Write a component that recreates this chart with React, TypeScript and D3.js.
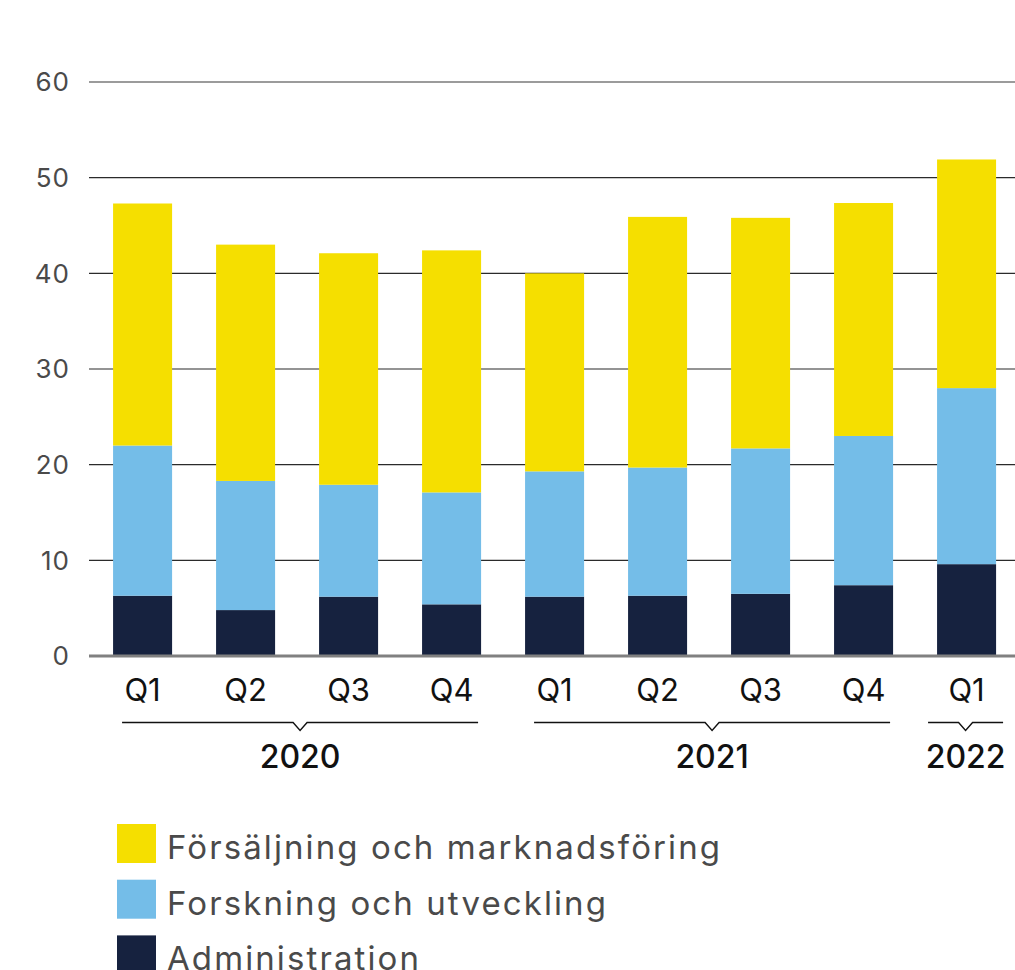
import React, { useLayoutEffect } from "react";
import * as d3 from "d3";

const quarters = ["Q1", "Q2", "Q3", "Q4", "Q1", "Q2", "Q3", "Q4", "Q1"];
const years = ["2020", "2020", "2020", "2020", "2021", "2021", "2021", "2021", "2022"];
const administration = [6.3, 4.8, 6.2, 5.4, 6.2, 6.3, 6.5, 7.4, 9.6];
const forskning = [15.7, 13.5, 11.7, 11.7, 13.1, 13.4, 15.2, 15.6, 18.4];
const forsaljning = [25.3, 24.7, 24.2, 25.3, 20.7, 26.2, 24.1, 24.35, 23.9];
const yTicks = [0, 10, 20, 30, 40, 50, 60];
const seriesKeys = ["admin", "rnd", "sales"];
const seriesLabels = ["Administration", "Forskning och utveckling", "Försäljning och marknadsföring"];
const seriesColors = ["#16223f", "#74bde8", "#f5df00"];
const legendOrder = [2, 1, 0];

const W = 1015;
const H = 970;
const FONT = "Inter, 'Noto Sans', sans-serif";

export default function App() {
  useLayoutEffect(() => {
    document.body.style.margin = "0";
  }, []);

  const rows = quarters.map((q, i) => ({
    id: i,
    admin: administration[i],
    rnd: forskning[i],
    sales: forsaljning[i],
  }));
  const stacked = d3.stack<any>().keys(seriesKeys)(rows);

  const x = d3
    .scaleBand<number>()
    .domain(rows.map((r) => r.id))
    .range([89, 1015])
    .paddingInner(0.427)
    .paddingOuter(0.2087)
    .align(0.56);
  const y = d3.scaleLinear().domain([0, 60]).range([656, 82]);

  const bw = x.bandwidth();
  const groups = Array.from(new Set(years)).map((yr) => {
    const idx = years.map((v, i) => (v === yr ? i : -1)).filter((i) => i >= 0);
    const first = idx[0];
    const last = idx[idx.length - 1];
    let x0: number, x1: number;
    if (idx.length === 1) {
      x0 = (x(first) as number) - 9;
      x1 = (x(last) as number) + bw + 7;
    } else {
      x0 = (x(first) as number) + 9;
      x1 = (x(last) as number) + bw - 3;
    }
    return { yr, x0, x1, cx: (x0 + x1) / 2 };
  });

  const bracketY = 722.5;

  return (
    <svg width={W} height={H} style={{ display: "block" }} fontFamily={FONT}>
      {yTicks.map((t) => (
        <g key={t}>
          {t !== 0 && (
            <line
              x1={89}
              x2={W}
              y1={y(t)}
              y2={y(t)}
              stroke={t === 60 ? "#7a7a7a" : "#2b2b2b"}
              strokeWidth={t === 60 ? 1.5 : 1.2}
            />
          )}
          <text x={70} y={y(t)} dy="0.36em" textAnchor="end" fontSize={26} letterSpacing={1} fill="#4a4a4a">
            {t}
          </text>
        </g>
      ))}
      {stacked.map((s, si) => (
        <g key={s.key} fill={seriesColors[si]}>
          {s.map((d, i) => (
            <rect
              key={i}
              x={x(i) as number}
              width={bw}
              y={y(d[1])}
              height={y(d[0]) - y(d[1])}
            />
          ))}
        </g>
      ))}
      <line x1={89} x2={W} y1={656} y2={656} stroke="#808080" strokeWidth={2.8} />
      {quarters.map((q, i) => (
        <text
          key={i}
          x={(x(i) as number) + bw / 2}
          y={701}
          textAnchor="middle"
          fontSize={31}
          fill="#111"
        >
          {q}
        </text>
      ))}
      {groups.map((g) => (
        <g key={g.yr}>
          <path
            d={`M${g.x0},${bracketY}H${g.cx - 7}L${g.cx},${bracketY + 8}L${g.cx + 7},${bracketY}H${g.x1}`}
            fill="none"
            stroke="#111"
            strokeWidth={1.4}
          />
          <text x={g.cx} y={768} textAnchor="middle" fontSize={32} fontWeight={500} fill="#111">
            {g.yr}
          </text>
        </g>
      ))}
      {legendOrder.map((si, k) => (
        <g key={si} transform={`translate(117,${824 + k * 55.7})`}>
          <rect width={39} height={39} fill={seriesColors[si]} />
          <text x={50} y={35} fontSize={33} letterSpacing={2.1} fill="#4a4a4a">
            {seriesLabels[si]}
          </text>
        </g>
      ))}
    </svg>
  );
}
